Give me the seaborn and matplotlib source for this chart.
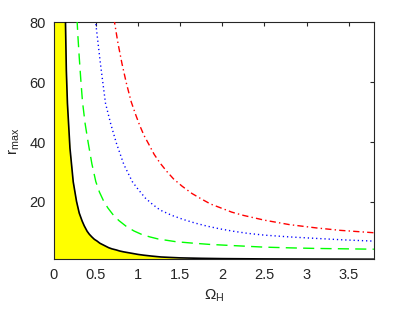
import matplotlib
matplotlib.use("Agg")
import matplotlib.pyplot as plt
import seaborn as sns
import pandas as pd

# ---- data ----
omega_black = [0.0, 0.125, 0.137, 0.147, 0.160, 0.19, 0.229, 0.268, 0.30, 0.335, 0.36, 0.394, 0.42,
               0.45, 0.48, 0.513, 0.545, 0.58, 0.615, 0.65, 0.69, 0.74, 0.78, 0.83, 0.89, 0.95,
               1.0, 1.065, 1.16, 1.27, 1.38, 1.5, 1.75, 2.0, 2.5, 3.0, 3.8]
r_black = [100, 90, 80, 64, 53, 38, 26.7, 20.2, 16.3, 13.6, 12.0, 10.2, 9.2,
           8.3, 7.5, 6.9, 6.2, 5.7, 5.2, 4.7, 4.3, 3.95, 3.6, 3.3, 3.0, 2.7,
           2.45, 2.2, 1.9, 1.6, 1.45, 1.3, 1.15, 1.05, 0.95, 0.9, 0.85]

omega_green = [0.265, 0.276, 0.285, 0.30, 0.32, 0.339, 0.37, 0.406, 0.45, 0.497, 0.54, 0.59, 0.64,
               0.70, 0.77, 0.86, 0.95, 1.045, 1.14, 1.24, 1.45, 1.66, 1.85, 2.06, 2.49, 2.8,
               3.12, 3.8]
r_green = [87, 80, 75.2, 68.5, 60.4, 53.5, 46.2, 39.9, 32.8, 26.8, 23.3, 20.3, 18.0,
           15.8, 13.8, 11.8, 10.3, 9.1, 8.3, 7.6, 6.7, 6.2, 5.8, 5.5, 4.9, 4.65,
           4.45, 4.2]

omega_blue = [0.485, 0.497, 0.552, 0.612, 0.675, 0.742, 0.83, 0.93, 1.0, 1.085, 1.17, 1.26, 1.4,
              1.54, 1.68, 1.82, 1.97, 2.13, 2.3, 2.5, 2.8, 3.12, 3.45, 3.8]
r_blue = [85, 79.6, 66.2, 53, 46, 39.6, 32.5, 26.8, 24.2, 21.3, 19.2, 17.3, 15.5,
          14.1, 12.9, 11.9, 11.0, 10.2, 9.5, 8.9, 8.3, 7.8, 7.3, 6.9]

omega_red = [0.70, 0.722, 0.76, 0.808, 0.86, 0.917, 0.97, 1.018, 1.07, 1.124, 1.19, 1.26, 1.34,
             1.42, 1.52, 1.64, 1.75, 1.86, 2.0, 2.11, 2.25, 2.5, 2.8, 3.12, 3.4, 3.8]
r_red = [86, 79.6, 73.1, 66.2, 59.7, 53.5, 49.2, 45.6, 42.2, 39.4, 35.9, 33.0, 30.2,
         27.7, 25.3, 22.8, 21.0, 19.3, 17.8, 16.6, 15.5, 13.9, 12.4, 11.3, 10.5, 9.7]

x_ticks = [0, 0.5, 1, 1.5, 2, 2.5, 3, 3.5]
x_ticklabels = ["0", "0.5", "1", "1.5", "2", "2.5", "3", "3.5"]
y_ticks = [20, 40, 60, 80]

# ---- style ----
sns.set_style("white")
plt.rcParams["font.family"] = ["Liberation Sans", "DejaVu Sans"]
plt.rcParams["mathtext.fontset"] = "custom"
plt.rcParams["mathtext.rm"] = "Liberation Sans"
plt.rcParams["mathtext.it"] = "Liberation Sans:italic"
plt.rcParams["mathtext.bf"] = "Liberation Sans:bold"

txt = "#262626"
fig = plt.figure(figsize=(4.15, 3.11), dpi=100)
ax = fig.add_axes([0.130, 0.166, 0.771, 0.762])

ax.fill_between(omega_black, 0, r_black, color="#FFFF00", linewidth=0, zorder=1)

df_b = pd.DataFrame({"omega": omega_black, "r": r_black})
sns.lineplot(data=df_b, x="omega", y="r", ax=ax, color="black", linewidth=1.2,
             sort=False, estimator=None, zorder=3)

df_g = pd.DataFrame({"omega": omega_green, "r": r_green})
sns.lineplot(data=df_g, x="omega", y="r", ax=ax, color="#00FF00", linewidth=1.0,
             sort=False, estimator=None, zorder=3)
ax.lines[-1].set_dashes((8, 4.5))

df_bl = pd.DataFrame({"omega": omega_blue, "r": r_blue})
sns.lineplot(data=df_bl, x="omega", y="r", ax=ax, color="#0000FF", linewidth=1.0,
             sort=False, estimator=None, zorder=3)
ax.lines[-1].set_dashes((0.9, 2.1))

df_r = pd.DataFrame({"omega": omega_red, "r": r_red})
sns.lineplot(data=df_r, x="omega", y="r", ax=ax, color="#FF0000", linewidth=1.0,
             sort=False, estimator=None, zorder=3)
ax.lines[-1].set_dashes((4.5, 2.3, 1.0, 2.3))

ax.set_xlim(0, 3.8)
ax.set_ylim(0.8, 80)
ax.set_xticks(x_ticks)
ax.set_xticklabels(x_ticklabels)
ax.set_yticks(y_ticks)
ax.tick_params(direction="in", length=3, width=0.8, top=True, right=True,
               labelsize=10.5, colors=txt, pad=6)
for sp in ax.spines.values():
    sp.set_visible(True)
    sp.set_color(txt)
    sp.set_linewidth(0.8)

ax.set_xlabel("\u03a9$_{\\mathrm{H}}$", fontsize=11, color=txt, labelpad=4)
ax.set_ylabel("r$_{\\mathrm{max}}$", fontsize=11, color=txt, labelpad=5)

fig.savefig("out.png", dpi=100)
